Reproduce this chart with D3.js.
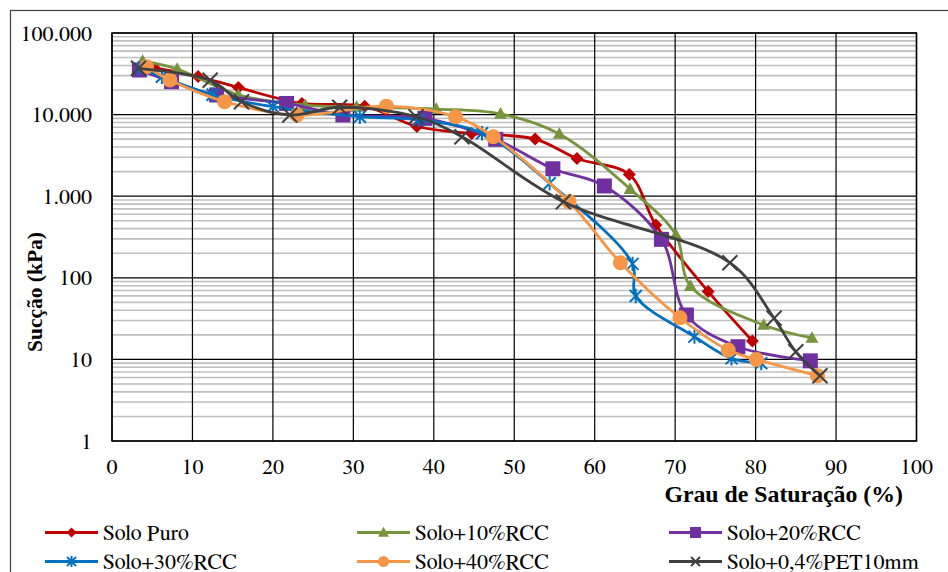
<!DOCTYPE html>
<html><head><meta charset="utf-8">
<script src="https://cdn.jsdelivr.net/npm/d3@7"></script>
</head>
<body style="margin:0;padding:0;background:#fff">
<svg id="chart" width="948" height="572" style="display:block"></svg>
<script>
// ---- data (Grau de Saturação %, Sucção kPa) ----
const seriesNames = ["Solo Puro","Solo+10%RCC","Solo+20%RCC","Solo+30%RCC","Solo+40%RCC","Solo+0,4%PET10mm"];
const seriesColors = ["#C00000","#77933C","#7030A0","#0070C0","#F79646","#404040"];
const seriesSymbols = ["diamond","triangle","square","asterisk","circle","cross"];

const satPuro = [3.8, 5.3, 10.7, 15.7, 23.6, 31.4, 37.9, 44.7, 52.6, 57.8, 64.3, 67.6, 74.1, 79.6];
const sucPuro = [38000, 37000, 29300, 21500, 13700, 12700, 7150, 5870, 5020, 2900, 1845, 444, 68, 16.8];

const sat10 = [3.8, 8.1, 15.7, 24.0, 30.4, 40.3, 48.3, 55.6, 64.4, 70.1, 71.9, 81.0, 87.0];
const suc10 = [45400, 36200, 17400, 13100, 12400, 11700, 10200, 5790, 1225, 335, 79, 26.4, 18.3];

const sat20 = [3.4, 7.4, 13.0, 21.7, 28.7, 38.9, 47.7, 54.8, 61.2, 68.3, 71.4, 77.8, 86.8];
const suc20 = [35200, 25300, 17400, 13700, 9900, 9000, 4980, 2170, 1334, 296, 35, 14.3, 9.6];

const sat30 = [3.3, 6.2, 12.5, 20.0, 30.8, 38.1, 46.0, 54.4, 64.7, 65.1, 72.4, 77.0, 80.7];
const suc30 = [37000, 29100, 17500, 12500, 9420, 8590, 5900, 1440, 148, 59.8, 19, 10.3, 9.0];

const sat40 = [4.3, 7.2, 14.0, 23.0, 34.1, 42.7, 47.4, 56.8, 63.2, 70.6, 76.6, 80.1, 87.7];
const suc40 = [38600, 26500, 14400, 9900, 12700, 9420, 5360, 857, 153, 32.4, 13.0, 10.0, 6.3];

const satPet = [3.3, 12.2, 16.1, 22.1, 28.3, 37.8, 43.5, 56.1, 76.8, 82.3, 85.0, 88.0];
const sucPet = [36900, 26300, 14400, 9900, 12300, 9420, 5360, 857, 153, 31.9, 12.4, 6.3];

const xTicks = [0,10,20,30,40,50,60,70,80,90,100];
const yTicks = [1,10,100,1000,10000,100000];
const yTickLabels = ["1","10","100","1.000","10.000","100.000"];
const xTitle = "Grau de Saturação (%)";
const yTitle = "Sucção (kPa)";

const satData = [satPuro, sat10, sat20, sat30, sat40, satPet];
const sucData = [sucPuro, suc10, suc20, suc30, suc40, sucPet];

const FONT_REG = '"FreeSerif", "Tinos", "Liberation Serif", monospace';
const FONT_BOLD = '"Liberation Serif", "Times New Roman", serif';
const FS = "22px";

// ---- layout ----
const svg = d3.select("#chart");
const L = 112, R = 916.5, T = 33, B = 441;
const x = d3.scaleLinear().domain([0,100]).range([L,R]);
const y = d3.scaleLog().domain([1,100000]).range([B,T]);

// outer chart border
svg.append("rect").attr("x",10.5).attr("y",10.5).attr("width",960).attr("height",600)
  .attr("fill","none").attr("stroke","#404040").attr("stroke-width",1.2);

// minor horizontal grid
const minor = [];
for (let d = 0; d < 5; d++) for (let k = 2; k <= 9; k++) minor.push(k*Math.pow(10,d));
svg.append("g").selectAll("line").data(minor).join("line")
  .attr("x1",L).attr("x2",R).attr("y1",v=>y(v)).attr("y2",v=>y(v))
  .attr("stroke","#BFBFBF").attr("stroke-width",1.6);

// major horizontal grid
svg.append("g").selectAll("line").data(yTicks).join("line")
  .attr("x1",L).attr("x2",R).attr("y1",v=>y(v)).attr("y2",v=>y(v))
  .attr("stroke","#000").attr("stroke-width",1.2);

// vertical grid
svg.append("g").selectAll("line").data(xTicks).join("line")
  .attr("x1",v=>x(v)).attr("x2",v=>x(v)).attr("y1",T).attr("y2",B)
  .attr("stroke","#000").attr("stroke-width",1.2);

// plot frame
svg.append("rect").attr("x",L).attr("y",T).attr("width",R-L).attr("height",B-T)
  .attr("fill","none").attr("stroke","#000").attr("stroke-width",1.5);

// tick labels
xTicks.forEach(v=>{
  svg.append("text").attr("x",x(v)).attr("y",B+33).attr("text-anchor","middle")
    .style("font-family", FONT_REG).style("font-size",FS).text(d3.format("d")(v));
});
yTicks.forEach((v,i)=>{
  svg.append("text").attr("x",92).attr("y",y(v)+7.5).attr("text-anchor","end")
    .style("font-family", FONT_REG).style("font-size",FS).text(yTickLabels[i]);
});

// titles
svg.append("text").attr("x",903).attr("y",502).attr("text-anchor","end")
  .style("font-family", FONT_BOLD).style("font-size","23.8px").style("font-weight","bold").text(xTitle);
svg.append("text").attr("transform","translate(42,292) rotate(-90)").attr("text-anchor","middle")
  .style("font-family", FONT_BOLD).style("font-size","21.5px").style("font-weight","bold").text(yTitle);

// markers
function marker(g, type, color, s) {
  if (type === "diamond") {
    g.append("path").attr("d",`M0,${-s}L${s},0L0,${s}L${-s},0Z`).attr("fill",color);
  } else if (type === "triangle") {
    g.append("path").attr("d",`M0,${-s*1.05}L${s},${s*0.75}L${-s},${s*0.75}Z`).attr("fill",color);
  } else if (type === "square") {
    g.append("rect").attr("x",-s).attr("y",-s).attr("width",2*s).attr("height",2*s).attr("fill",color);
  } else if (type === "circle") {
    g.append("circle").attr("r",s).attr("fill",color);
  } else if (type === "asterisk") {
    const a = s;
    g.append("path").attr("d",`M${-a},${-a}L${a},${a}M${-a},${a}L${a},${-a}M0,${-a*1.2}L0,${a*1.2}`)
      .attr("stroke",color).attr("stroke-width",2).attr("fill","none");
  } else if (type === "cross") {
    g.append("path").attr("d",`M${-s},${-s}L${s},${s}M${-s},${s}L${s},${-s}`)
      .attr("stroke",color).attr("stroke-width",2).attr("fill","none");
  }
}
const mSize = {diamond:6.5, triangle:6.5, square:7.5, circle:7.5, asterisk:6, cross:7.5};
const lgSize = {diamond:5, triangle:5.5, square:5.5, circle:5.5, asterisk:4.5, cross:4.5};

const line = d3.line().x(d=>x(d[0])).y(d=>y(d[1])).curve(d3.curveCatmullRom.alpha(0.5));
const plot = svg.append("g");
seriesNames.forEach((name,i)=>{
  const pts = satData[i].map((s,j)=>[s, sucData[i][j]]);
  const g = plot.append("g");
  g.append("path").attr("d",line(pts)).attr("fill","none")
    .attr("stroke",seriesColors[i]).attr("stroke-width",2.8);
  pts.forEach(p=>{
    const m = g.append("g").attr("transform",`translate(${x(p[0])},${y(p[1])})`);
    marker(m, seriesSymbols[i], seriesColors[i], mSize[seriesSymbols[i]]);
  });
});

// legend
const legX = [45, 357, 669];
const legY = [532.5, 561.5];
seriesNames.forEach((name,i)=>{
  const cx = legX[i%3], cy = legY[Math.floor(i/3)];
  const g = svg.append("g");
  g.append("line").attr("x1",cx).attr("x2",cx+53).attr("y1",cy).attr("y2",cy)
    .attr("stroke",seriesColors[i]).attr("stroke-width",2.8);
  const m = g.append("g").attr("transform",`translate(${cx+26.5},${cy})`);
  marker(m, seriesSymbols[i], seriesColors[i], lgSize[seriesSymbols[i]]);
  svg.append("text").attr("x",cx+58).attr("y",cy+7)
    .style("font-family", FONT_REG).style("font-size",FS).text(name);
});
</script>
</body></html>
